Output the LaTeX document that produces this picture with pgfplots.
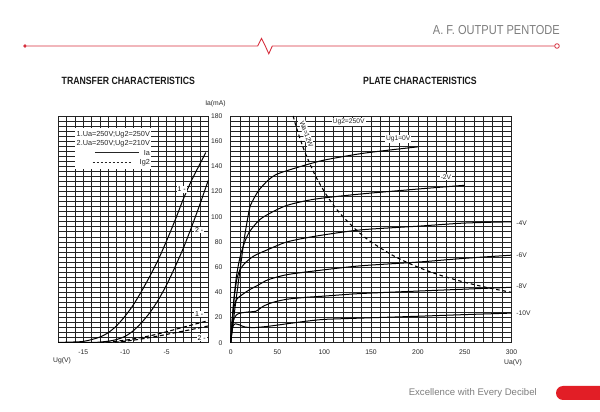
\documentclass[border=0pt]{standalone}
\usepackage{pgfplots}
\pgfplotsset{compat=1.18}
\usepackage{fontspec}
\setmainfont{Liberation Sans}
\definecolor{hred}{RGB}{214,48,62}
\definecolor{fred}{RGB}{226,30,38}
\definecolor{htext}{RGB}{125,125,125}
\definecolor{gridc}{RGB}{35,35,35}
\newcommand{\tlfont}{\fontsize{6.8}{8}\selectfont}
\newcommand{\smlab}{\fontsize{6.7}{8}\selectfont}
\newcommand{\dashrule}{\leaders\hbox{\rule[0.55ex]{2.6pt}{1pt}\hspace{1.4pt}}\hskip 44pt}
\begin{document}
\begin{tikzpicture}[x=1pt,y=1pt]
\path[use as bounding box] (0,0) rectangle (600,412);
% header
\draw[hred, line width=0.9pt] (27,366) -- (257.7,366) -- (261.5,373.5) -- (265.3,366) -- (268.8,358.2) -- (272.3,366) -- (554.7,366);
\fill[hred] (25,366) circle (1.8);
\draw[hred, line width=0.8pt, fill=white] (557,366) circle (2.3);
\node[anchor=east, text=htext, inner sep=0] at (560,382.2) {\scalebox{0.85}[1]{\fontsize{13}{15}\selectfont A. F. OUTPUT PENTODE}};
\node[inner sep=0, text=black!90] at (128.3,331) {\scalebox{0.83}[1]{\bfseries\fontsize{10.5}{12}\selectfont TRANSFER CHARACTERISTICS}};
\node[inner sep=0, text=black!90] at (420,331) {\scalebox{0.83}[1]{\bfseries\fontsize{10.5}{12}\selectfont PLATE CHARACTERISTICS}};
% footer
\fill[fred, rounded corners=7pt] (556,12) rectangle (614,26);
\node[anchor=east, text=htext, inner sep=0] at (537,19) {\fontsize{9.6}{11}\selectfont Excellence with Every Decibel};

% ---------- transfer characteristics ----------
\begin{axis}[
  at={(58.3pt,69.3pt)}, anchor=south west, scale only axis,
  width=150pt, height=226.7pt,
  xmin=-18, xmax=0, ymin=0, ymax=180,
  xtick={-15,-10,-5}, xticklabels={-15,-10,-5},
  ytick={0,20,...,180}, yticklabels={},
  minor xtick={-18,-17,...,0}, minor ytick={0,4,...,180},
  grid=both, grid style={gridc, line width=0.75pt},
  minor grid style={gridc, line width=0.75pt},
  major tick length=0pt, minor tick length=0pt,
  axis line style={gridc, line width=0.8pt},
  xticklabel style={font=\tlfont, text=black!85, yshift=-4pt},
]
\addplot[black, line width=1pt, smooth, tension=0.5] coordinates {
(-18,0.2) (-16,0.6) (-15,1) (-14,2.5) (-13,4.5) (-12,8) (-11,13.5) (-10,21) (-9,30) (-8,41) (-7,53) (-6,66) (-5,81) (-4,97) (-3,114) (-2,129) (-1,142) (-0.3,151)};
\addplot[black, line width=1pt, smooth, tension=0.5] coordinates {
(-18,0) (-14,0.2) (-13,0.5) (-12,1.2) (-11,2.5) (-10,5) (-9,9.5) (-8,16) (-7,24) (-6,34) (-5,46) (-4,60) (-3,75) (-2,92) (-1,110) (0,129)};
\addplot[black, line width=1.1pt, dash pattern=on 4pt off 2.5pt, smooth] coordinates {
(-13,0) (-12,0.5) (-11,1.2) (-10,2) (-9,3) (-8,4.2) (-7,5.5) (-6,7) (-5,8.7) (-4,10.5) (-3,12.3) (-2,14) (-1,15.8) (0,17.5)};
\addplot[black, line width=1.1pt, dash pattern=on 4pt off 2.5pt, smooth] coordinates {
(-12,0) (-11,0.5) (-10,1.2) (-9,2) (-8,3) (-7,4.1) (-6,5.3) (-5,6.6) (-4,7.9) (-3,9.2) (-2,10.5) (-1,11.9) (0,13.3)};
\node[fill=white, inner sep=1pt, font=\fontsize{7}{8}\selectfont] at (axis cs:-3.2,121.8) {1 -};
\node[fill=white, inner sep=1pt, font=\fontsize{7}{8}\selectfont] at (axis cs:-1.1,89.5) {2 -};
\node[fill=white, inner sep=1pt, font=\fontsize{7}{8}\selectfont] at (axis cs:-1.1,22.8) {1 -};
\node[fill=white, inner sep=1pt, font=\fontsize{7}{8}\selectfont] at (axis cs:-0.8,3.8) {2 -};
\end{axis}
\node[anchor=north west, fill=white, inner xsep=1.5pt, inner ysep=1.5pt, text=black!85] at (75,283.7) {\fontsize{7.3}{9.4}\selectfont
\begin{tabular}{@{}r@{}}
1.Ua=250V;Ug2=250V\\
2.Ua=250V;Ug2=210V\\
\rule[0.55ex]{44pt}{0.8pt}\hspace{5pt}Ia\hspace{1pt}\\
\dashrule\hspace{4pt}Ig2
\end{tabular}};

% ---------- plate characteristics ----------
\begin{axis}[
  at={(230.7pt,69.3pt)}, anchor=south west, scale only axis,
  width=280.8pt, height=226.7pt,
  xmin=0, xmax=300, ymin=0, ymax=180,
  xtick={0,50,...,300}, ytick={0,20,...,180},
  minor xtick={0,10,...,300}, minor ytick={0,4,...,180},
  grid=both, grid style={gridc, line width=0.75pt},
  minor grid style={gridc, line width=0.75pt},
  major tick length=0pt, minor tick length=0pt,
  axis line style={gridc, line width=0.8pt},
  /pgf/number format/assume math mode=true,
  xticklabel style={font=\tlfont, text=black!85, yshift=-4pt},
  yticklabel style={font=\tlfont, text=black!85, anchor=east, inner sep=0pt, xshift=-8pt},
  clip=false,
]
% Ug1 = 0 V
\addplot[black, line width=1pt, smooth, tension=0.45] coordinates {
(0,0) (5,30) (10,58) (15,85) (20,106) (23,112) (30,121) (40,129) (50,134) (75,140) (100,145) (138,150) (170,153) (200,155.5)};
% -2 V
\addplot[black, line width=1pt, smooth, tension=0.45] coordinates {
(0,0) (3,30) (6,52) (10,68) (15,80) (20,88) (30,97) (40,102) (60,109) (90,114) (138,118) (200,122) (250,125)};
% -4 V
\addplot[black, line width=1pt, smooth, tension=0.45] coordinates {
(0,0) (2,22) (4,38) (7,52) (10,58) (15,63) (25,69) (40,74) (60,80) (90,84.5) (138,89.5) (200,92.5) (250,95) (300,96)};
% -6 V
\addplot[black, line width=1pt, smooth, tension=0.45] coordinates {
(0,0) (2,20) (4,30) (7,35) (12,38) (20,42) (30,46) (40,50) (60,54) (90,57) (138,61) (200,64) (250,67) (300,69.5)};
% -8 V
\addplot[black, line width=1pt, smooth, tension=0.45] coordinates {
(0,0) (2,14) (4,20) (6,22) (10,23.5) (20,24.5) (27,25) (35,29) (45,32) (60,34.5) (80,36) (100,37) (138,39) (200,41) (250,42.5) (300,44)};
% -10 V
\addplot[black, line width=1pt, smooth, tension=0.45] coordinates {
(0,0) (1.5,10) (3,14) (5,15) (10,14) (15,12.5) (25,12) (40,13) (60,15) (80,17) (100,18.5) (138,19.5) (200,21) (250,22.3) (300,23.5)};
% Wa = 12 W
\addplot[black, line width=1.1pt, dash pattern=on 3.5pt off 3pt, smooth] coordinates {
(66.7,180) (70,171.4) (75,160) (80,150) (90,133.3) (100,120) (110,109) (120,100) (135,88.9) (150,80) (175,68.6) (200,60) (225,53.3) (250,48) (275,43.6) (300,40)};
\node[fill=white, inner sep=1pt, font=\smlab, text=black!85] at (axis cs:126,175) {Ug2=250V};
\node[fill=white, inner sep=1pt, font=\smlab, text=black!85] at (axis cs:179,161.7) {Ug1=0V};
\node[fill=white, inner sep=1pt, font=\smlab, text=black!85] at (axis cs:230,131.6) {-2V};
\node[fill=white, inner sep=1.2pt, font=\smlab, text=black!85, rotate=-70] at (axis cs:81,165.6) {Wa=12W};
\node[anchor=west, inner sep=0, font=\smlab, text=black!85] at (axis cs:305,94.8) {-4V};
\node[anchor=west, inner sep=0, font=\smlab, text=black!85] at (axis cs:305,69.6) {-6V};
\node[anchor=west, inner sep=0, font=\smlab, text=black!85] at (axis cs:305,44.8) {-8V};
\node[anchor=west, inner sep=0, font=\smlab, text=black!85] at (axis cs:305,23.5) {-10V};
\end{axis}
\node[font=\tlfont, text=black!85] at (215.5,308.7) {Ia(mA)};
\node[font=\tlfont, text=black!85] at (62,51) {Ug(V)};
\node[font=\tlfont, text=black!85] at (513,49) {Ua(V)};
\end{tikzpicture}
\end{document}
